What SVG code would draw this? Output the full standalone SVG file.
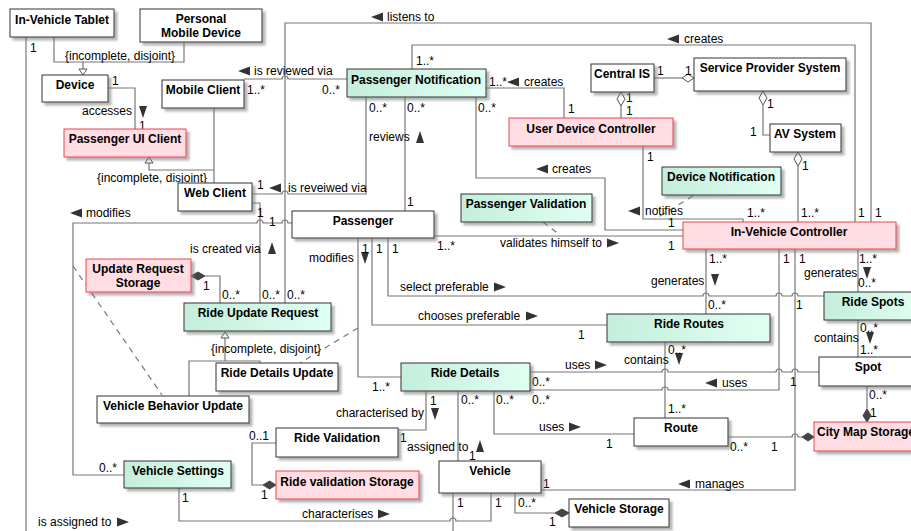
<svg xmlns="http://www.w3.org/2000/svg" xmlns:xlink="http://www.w3.org/1999/xlink" width="911" height="531" viewBox="0 0 911 531">
<defs>
<linearGradient id="gr" x1="0" y1="0" x2="1" y2="0"><stop offset="0" stop-color="#c4eedb"/><stop offset="1" stop-color="#e0fff3"/></linearGradient>
<filter id="sh" x="-5%" y="-10%" width="115%" height="140%"><feDropShadow dx="3" dy="3" stdDeviation="1" flood-color="#777" flood-opacity="0.55"/></filter>
<path id="aL" d="M0,0 L12,-4.5 L12,4.5 Z" fill="#333"/>
<path id="aR" d="M0,-4.5 L12,0 L0,4.5 Z" fill="#333"/>
<path id="aD" d="M-4,0 L4,0 L0,12 Z" fill="#333"/>
<path id="aU" d="M-4,12 L4,12 L0,0 Z" fill="#333"/>
</defs>
<style>
.b rect{fill:#fff;stroke:#333;stroke-width:1;filter:url(#sh)}
.g rect{fill:url(#gr);stroke:#333;stroke-width:1;filter:url(#sh)}
.p rect{fill:#ffdde3;stroke:#e8474f;stroke-width:1;filter:url(#sh)}
.t{font-family:"Liberation Sans",Arial,sans-serif;font-size:12px;font-weight:bold;text-anchor:middle;fill:#000}
.l{font-family:"Liberation Sans",Arial,sans-serif;font-size:12px;fill:#000}
.c path{fill:none;stroke:#777;stroke-width:1.2}
.c .d{stroke-dasharray:6,5}
.hd{fill:#fff;stroke:#555;stroke-width:1}
.fd{fill:#444;stroke:#444;stroke-width:1}
</style>
<rect width="911" height="531" fill="#fff"/>

<g id="connectors" class="c">
<path d="M54,37 V62 H184 V42 M83,62 V69"/>
<path d="M26,37 V531"/>
<path d="M108,88 H135 V129"/>
<path d="M149,163 V170 H214 M214,108 V183"/>
<path d="M244,79 H282 A3,3 0 0 1 288,79 H347"/>
<path d="M252,194 H282 A3,3 0 0 1 288,194 H366 V97"/>
<path d="M285,303 V23 H871 V222"/>
<path d="M412,69 V45 H855 V222"/>
<path d="M486,88 H564 V118"/>
<path d="M405,97 V211"/>
<path d="M476,97 V178 H605 V230 H683"/>
<path d="M643,146 V219 H743 V222"/>
<path d="M654,78 H682"/>
<path d="M621,106 V118"/>
<path d="M763,105 V135 H770"/>
<path d="M798,166 V222"/>
<path d="M434,236 H683"/>
<path class="d" d="M543,222 L560,235"/>
<path class="d" d="M693,196 L655,219"/>
<path d="M292,223 H288 A3,3 0 0 0 282,223 H263 A3,3 0 0 0 257,223 H73 V475 H124"/>
<path class="d" d="M73,266 L162,395"/>
<path d="M252,203 H260 V303"/>
<path d="M205,276 H220 V303"/>
<path d="M225,338 V361 M189,396 V361 H260 V363"/>
<path d="M358,238 V377 H401"/>
<path class="d" d="M358,328 L300,363"/>
<path d="M388,238 V296 H703 A3,3 0 0 1 709,296 H776 A3,3 0 0 1 782,296 H792 A3,3 0 0 1 798,296 H824"/>
<path d="M372,238 V325 H607"/>
<path d="M706,249 V314"/>
<path d="M779,249 V390 H668 A3,3 0 0 0 662,390 H530"/>
<path d="M795,249 V490 H541"/>
<path d="M858,249 V292"/>
<path d="M858,320 V357"/>
<path d="M867,386 V409"/>
<path d="M728,437 H792 A3,3 0 0 1 798,437 H802"/>
<path d="M665,342 V418"/>
<path d="M530,372 H662 A3,3 0 0 1 668,372 H776 A3,3 0 0 1 782,372 H792 A3,3 0 0 1 798,372 H819"/>
<path d="M494,391 V434 H634"/>
<path d="M426,391 V430 H398"/>
<path d="M458,391 V461"/>
<path d="M276,443 H252 V485 H263"/>
<path d="M179,488 V521 H450 A3,3 0 0 1 456,521 H491 V493"/>
<path d="M453,493 V531"/>
<path d="M515,493 V513 H555"/>
<!-- generalization triangles -->
<polygon class="hd" points="79,69 87,69 83,75"/>
<polygon class="hd" points="145,163 153,163 149,157"/>
<polygon class="hd" points="221,338 229,338 225,332"/>
<!-- aggregation diamonds -->
<polygon class="hd" points="694,78 688,74 682,78 688,82"/>
<polygon class="hd" points="621,92 625,99 621,106 617,99"/>
<polygon class="hd" points="763,91 767,98 763,105 759,98"/>
<polygon class="hd" points="798,152 802,159 798,166 794,159"/>
<!-- composition diamonds -->
<polygon class="fd" points="191,276 198,272 205,276 198,280"/>
<polygon class="fd" points="867,409 871,415.5 867,422 863,415.5"/>
<polygon class="fd" points="802,437 808,433 814,437 808,441"/>
<polygon class="fd" points="263,485 269.5,481 276,485 269.5,489"/>
<polygon class="fd" points="555,513 562,509 569,513 562,517"/>
<!-- label arrows -->
<use href="#aL" x="371" y="17"/>
<use href="#aL" x="238" y="71"/>
<use href="#aL" x="507" y="82"/>
<use href="#aL" x="667" y="39"/>
<use href="#aL" x="536" y="169"/>
<use href="#aL" x="269" y="188"/>
<use href="#aL" x="628" y="211"/>
<use href="#aL" x="70" y="213"/>
<use href="#aL" x="705" y="383"/>
<use href="#aL" x="678" y="484"/>
<use href="#aR" x="607" y="243"/>
<use href="#aR" x="494" y="287"/>
<use href="#aR" x="526" y="316"/>
<use href="#aR" x="595" y="365"/>
<use href="#aR" x="569" y="427"/>
<use href="#aR" x="378" y="514"/>
<use href="#aR" x="117" y="522"/>
<use href="#aD" x="143" y="106"/>
<use href="#aD" x="365" y="252"/>
<use href="#aD" x="715" y="274"/>
<use href="#aD" x="867" y="267"/>
<use href="#aD" x="870" y="332"/>
<use href="#aD" x="679" y="353"/>
<use href="#aD" x="435" y="408"/>
<use href="#aU" x="420" y="131"/>
<use href="#aU" x="272" y="242"/>
<use href="#aU" x="480" y="440"/>
<!-- labels -->
<text class="l" x="65" y="60">{incomplete, disjoint}</text>
<text class="l" x="30" y="52">1</text>
<text class="l" x="112" y="85">1</text>
<text class="l" x="82" y="115">accesses</text>
<text class="l" x="139" y="130">1</text>
<text class="l" x="97" y="182">{incomplete, disjoint}</text>
<text class="l" x="254" y="75">is reviewed via</text>
<text class="l" x="247" y="94">1..*</text>
<text class="l" x="322" y="94">0..*</text>
<text class="l" x="369" y="112">0..*</text>
<text class="l" x="407" y="112">0..*</text>
<text class="l" x="478" y="112">0..*</text>
<text class="l" x="416" y="65">1..*</text>
<text class="l" x="387" y="21">listens to</text>
<text class="l" x="489" y="86">1..*</text>
<text class="l" x="524" y="86">creates</text>
<text class="l" x="568" y="113">1</text>
<text class="l" x="369" y="141">reviews</text>
<text class="l" x="552" y="173">creates</text>
<text class="l" x="684" y="43">creates</text>
<text class="l" x="657" y="75">1</text>
<text class="l" x="685" y="75">1</text>
<text class="l" x="626" y="102">1</text>
<text class="l" x="626" y="115">1</text>
<text class="l" x="767" y="108">1</text>
<text class="l" x="750" y="136">1</text>
<text class="l" x="802" y="170">1</text>
<text class="l" x="647" y="161">1</text>
<text class="l" x="645" y="215">notifies</text>
<text class="l" x="668" y="227">1</text>
<text class="l" x="747" y="217">1..*</text>
<text class="l" x="801" y="217">1..*</text>
<text class="l" x="858" y="217">1</text>
<text class="l" x="875" y="217">1</text>
<text class="l" x="668" y="250">1</text>
<text class="l" x="500" y="247">validates himself to</text>
<text class="l" x="437" y="250">1..*</text>
<text class="l" x="362" y="253">1</text>
<text class="l" x="376" y="253">1</text>
<text class="l" x="392" y="253">1</text>
<text class="l" x="407" y="206">1</text>
<text class="l" x="309" y="262">modifies</text>
<text class="l" x="400" y="291">select preferable</text>
<text class="l" x="418" y="320">chooses preferable</text>
<text class="l" x="578" y="339">1</text>
<text class="l" x="709" y="263">1..*</text>
<text class="l" x="651" y="285">generates</text>
<text class="l" x="708" y="309">0..*</text>
<text class="l" x="783" y="263">1</text>
<text class="l" x="799" y="263">1</text>
<text class="l" x="796" y="309">1</text>
<text class="l" x="859" y="263">1..*</text>
<text class="l" x="804" y="277">generates</text>
<text class="l" x="858" y="287">0..*</text>
<text class="l" x="814" y="342">contains</text>
<text class="l" x="860" y="332">0..*</text>
<text class="l" x="860" y="354">1..*</text>
<text class="l" x="624" y="364">contains</text>
<text class="l" x="668" y="354">0..*</text>
<text class="l" x="722" y="387">uses</text>
<text class="l" x="790" y="386">1</text>
<text class="l" x="668" y="413">1..*</text>
<text class="l" x="869" y="399">0..*</text>
<text class="l" x="870" y="417">1</text>
<text class="l" x="606" y="448">1</text>
<text class="l" x="730" y="451">0..*</text>
<text class="l" x="771" y="451">1</text>
<text class="l" x="695" y="488">manages</text>
<text class="l" x="565" y="369">uses</text>
<text class="l" x="532" y="386">0..*</text>
<text class="l" x="532" y="404">0..*</text>
<text class="l" x="496" y="404">0..*</text>
<text class="l" x="461" y="404">0..*</text>
<text class="l" x="430" y="405">1</text>
<text class="l" x="336" y="417">characterised by</text>
<text class="l" x="400" y="442">1</text>
<text class="l" x="407" y="451">assigned to</text>
<text class="l" x="469" y="460">1</text>
<text class="l" x="539" y="431">uses</text>
<text class="l" x="543" y="488">1</text>
<text class="l" x="457" y="507">1</text>
<text class="l" x="495" y="507">1</text>
<text class="l" x="518" y="507">0..*</text>
<text class="l" x="549" y="526">1</text>
<text class="l" x="302" y="518">characterises</text>
<text class="l" x="38" y="526">is assigned to</text>
<text class="l" x="99" y="472">0..*</text>
<text class="l" x="182" y="502">1</text>
<text class="l" x="249" y="440">0..1</text>
<text class="l" x="261" y="499">1</text>
<text class="l" x="86" y="217">modifies</text>
<text class="l" x="269" y="226">1</text>
<text class="l" x="257" y="189">1</text>
<text class="l" x="257" y="217">1</text>
<text class="l" x="190" y="253">is created via</text>
<text class="l" x="203" y="290">1</text>
<text class="l" x="222" y="299">0..*</text>
<text class="l" x="262" y="299">0..*</text>
<text class="l" x="287" y="299">0..*</text>
<text class="l" x="211" y="353">{incomplete, disjoint}</text>
<text class="l" x="372" y="391">1..*</text>
<text class="l" x="288" y="192">is reveiwed via</text>
</g>

<g id="in-vehicle-tablet" class="b"><rect x="10" y="9" width="104" height="28"/><text class="t" x="62" y="24">In-Vehicle Tablet</text></g>
<g id="personal-mobile-device" class="b"><rect x="140" y="9" width="122" height="33"/><text class="t" x="201" y="23">Personal</text><text class="t" x="201" y="37">Mobile Device</text></g>
<g id="device" class="b"><rect x="42" y="75" width="66" height="27"/><text class="t" x="75" y="89">Device</text></g>
<g id="mobile-client" class="b"><rect x="162" y="80" width="82" height="28"/><text class="t" x="203" y="94">Mobile Client</text></g>
<g id="passenger-ui-client" class="p"><rect x="64" y="129" width="122" height="28"/><text class="t" x="125" y="143">Passenger UI Client</text></g>
<g id="web-client" class="b"><rect x="178" y="183" width="74" height="28"/><text class="t" x="215" y="197">Web Client</text></g>
<g id="passenger-notification" class="g"><rect x="347" y="69" width="139" height="28"/><text class="t" x="416" y="84">Passenger Notification</text></g>
<g id="user-device-controller" class="p"><rect x="509" y="118" width="164" height="28"/><text class="t" x="591" y="133">User Device Controller</text></g>
<g id="central-is" class="b"><rect x="591" y="64" width="63" height="28"/><text class="t" x="622" y="78">Central IS</text></g>
<g id="service-provider-system" class="b"><rect x="694" y="58" width="152" height="33"/><text class="t" x="770" y="72">Service Provider System</text></g>
<g id="av-system" class="b"><rect x="770" y="124" width="71" height="28"/><text class="t" x="805" y="138">AV System</text></g>
<g id="device-notification" class="g"><rect x="662" y="167" width="119" height="28"/><text class="t" x="721" y="181">Device Notification</text></g>
<g id="passenger-validation" class="g"><rect x="461" y="194" width="131" height="28"/><text class="t" x="526" y="208">Passenger Validation</text></g>
<g id="passenger" class="b"><rect x="292" y="211" width="142" height="27"/><text class="t" x="363" y="225">Passenger</text></g>
<g id="in-vehicle-controller" class="p"><rect x="683" y="222" width="213" height="27"/><text class="t" x="789" y="236">In-Vehicle Controller</text></g>
<g id="update-request-storage" class="p"><rect x="86" y="259" width="105" height="33"/><text class="t" x="138" y="273">Update Request</text><text class="t" x="138" y="287">Storage</text></g>
<g id="ride-update-request" class="g"><rect x="184" y="303" width="147" height="28"/><text class="t" x="258" y="317">Ride Update Request</text></g>
<g id="ride-spots" class="g"><rect x="824" y="292" width="98" height="28"/><text class="t" x="873" y="306">Ride Spots</text></g>
<g id="ride-routes" class="g"><rect x="607" y="314" width="163" height="28"/><text class="t" x="689" y="328">Ride Routes</text></g>
<g id="ride-details-update" class="b"><rect x="216" y="363" width="122" height="28"/><text class="t" x="277" y="377">Ride Details Update</text></g>
<g id="ride-details" class="g"><rect x="401" y="363" width="129" height="28"/><text class="t" x="465" y="377">Ride Details</text></g>
<g id="spot" class="b"><rect x="819" y="357" width="98" height="29"/><text class="t" x="868" y="371">Spot</text></g>
<g id="vehicle-behavior-update" class="b"><rect x="97" y="396" width="152" height="27"/><text class="t" x="173" y="410">Vehicle Behavior Update</text></g>
<g id="ride-validation" class="b"><rect x="276" y="428" width="122" height="29"/><text class="t" x="337" y="442">Ride Validation</text></g>
<g id="ride-validation-storage" class="p"><rect x="276" y="471" width="143" height="28"/><text class="t" x="347" y="486">Ride validation Storage</text></g>
<g id="route" class="b"><rect x="634" y="418" width="94" height="28"/><text class="t" x="681" y="432">Route</text></g>
<g id="city-map-storage" class="p"><rect x="814" y="422" width="104" height="29"/><text class="t" x="866" y="436">City Map Storage</text></g>
<g id="vehicle-settings" class="g"><rect x="124" y="461" width="107" height="27"/><text class="t" x="178" y="475">Vehicle Settings</text></g>
<g id="vehicle" class="b"><rect x="439" y="461" width="102" height="32"/><text class="t" x="490" y="475">Vehicle</text></g>
<g id="vehicle-storage" class="b"><rect x="569" y="499" width="100" height="28"/><text class="t" x="619" y="513">Vehicle Storage</text></g>
</svg>
